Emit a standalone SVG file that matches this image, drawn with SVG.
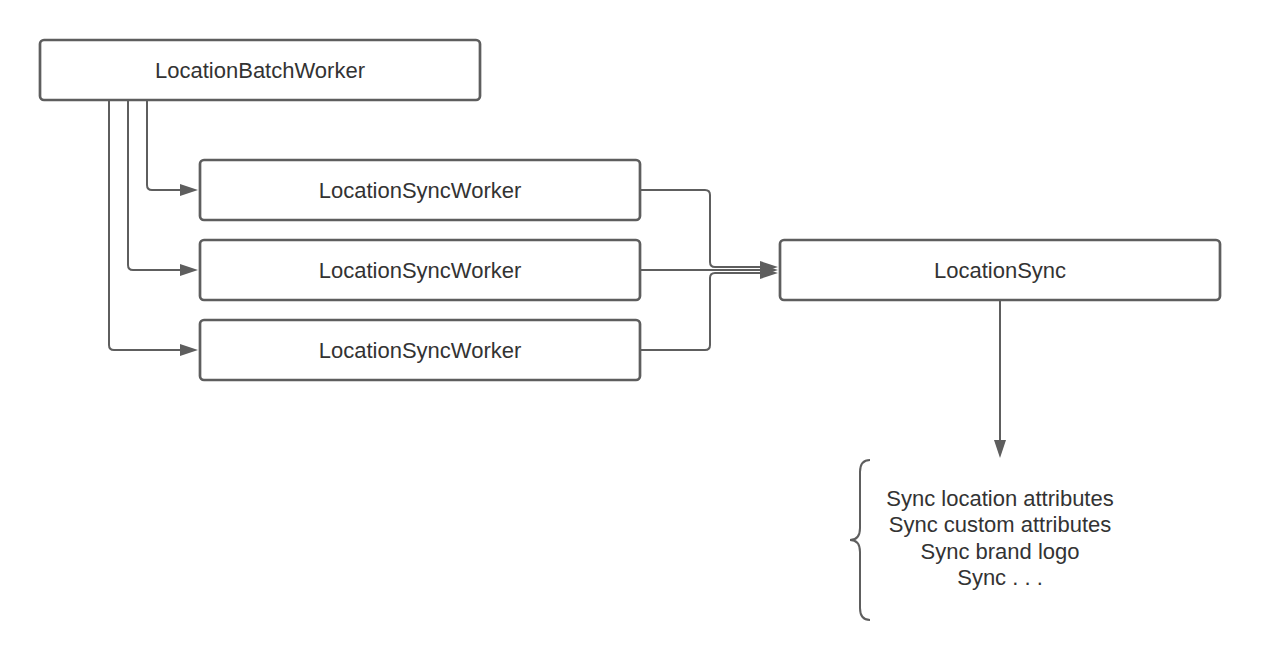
<svg xmlns="http://www.w3.org/2000/svg" width="1270" height="660" viewBox="0 0 1270 660">
<style>
.box{fill:#ffffff;stroke:#5e5e5e;stroke-width:2.7}
.lbl{font-family:"Liberation Sans",Arial,sans-serif;font-size:22px;fill:#333333;text-anchor:middle}
.ln{fill:none;stroke:#5e5e5e;stroke-width:2}
.ah{fill:#5e5e5e}
</style>
<rect width="1270" height="660" fill="#ffffff"/>
<g id="connectors">
<path class="ln" d="M147,101 L147,185 Q147,190 152,190 L182,190"/>
<polygon class="ah" points="180,184 198,190 180,196"/>
<path class="ln" d="M128,101 L128,265 Q128,270 133,270 L182,270"/>
<polygon class="ah" points="180,264 198,270 180,276"/>
<path class="ln" d="M109,101 L109,345 Q109,350 114,350 L182,350"/>
<polygon class="ah" points="180,344 198,350 180,356"/>
<path class="ln" d="M641,190 L705,190 Q710,190 710,195 L710,262 Q710,267 715,267 L762,267"/>
<path class="ln" d="M641,270 L762,270"/>
<path class="ln" d="M641,350 L705,350 Q710,350 710,345 L710,278 Q710,273 715,273 L762,273"/>
<polygon class="ah" points="760,261 778,267 760,273"/>
<polygon class="ah" points="760,264 778,270 760,276"/>
<polygon class="ah" points="760,267 778,273 760,279"/>
<path class="ln" d="M1000,301 L1000,442"/>
<polygon class="ah" points="994,440 1000,458 1006,440"/>
</g>
<g id="batch">
<rect class="box" x="40" y="40" width="440" height="60" rx="4"/>
<text class="lbl" x="260" y="77.5">LocationBatchWorker</text>
</g>
<g id="worker1">
<rect class="box" x="200" y="160" width="440" height="60" rx="4"/>
<text class="lbl" x="420" y="197.5">LocationSyncWorker</text>
</g>
<g id="worker2">
<rect class="box" x="200" y="240" width="440" height="60" rx="4"/>
<text class="lbl" x="420" y="277.5">LocationSyncWorker</text>
</g>
<g id="worker3">
<rect class="box" x="200" y="320" width="440" height="60" rx="4"/>
<text class="lbl" x="420" y="357.5">LocationSyncWorker</text>
</g>
<g id="sync">
<rect class="box" x="780" y="240" width="440" height="60" rx="4"/>
<text class="lbl" x="1000" y="277.5">LocationSync</text>
</g>
<g id="tasks">
<path class="ln" d="M870,460 Q860,460 860,472 L860,528 Q860,540 850,540 Q860,540 860,552 L860,608 Q860,620 870,620"/>
<text class="lbl" x="1000" y="505.5">Sync location attributes</text>
<text class="lbl" x="1000" y="532">Sync custom attributes</text>
<text class="lbl" x="1000" y="558.5">Sync brand logo</text>
<text class="lbl" x="1000" y="585">Sync . . .</text>
</g>
</svg>
